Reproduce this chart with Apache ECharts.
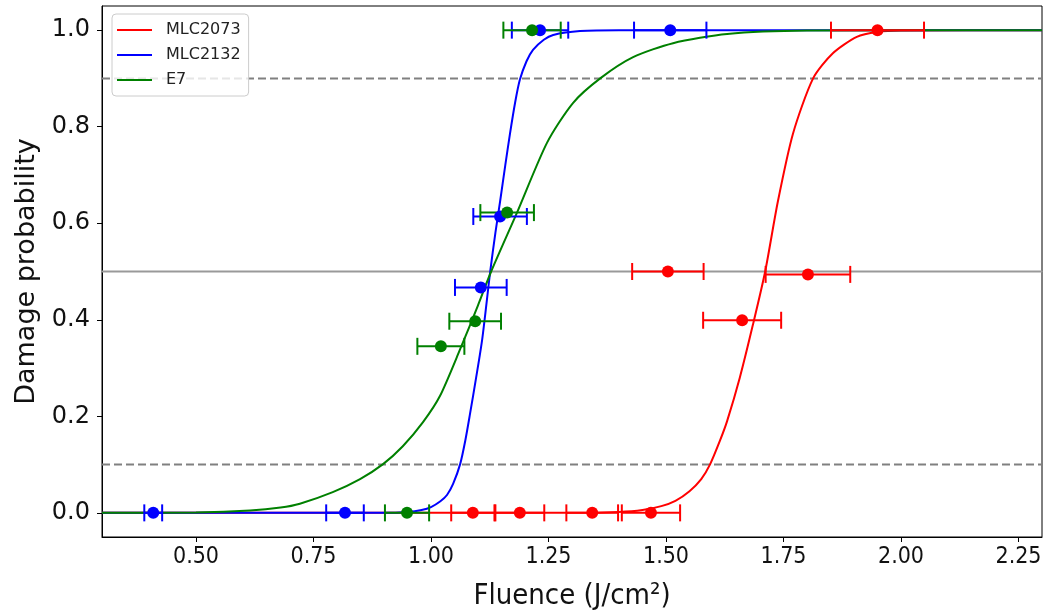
<!DOCTYPE html>
<html>
<head>
<meta charset="utf-8">
<script src="https://cdn.jsdelivr.net/npm/echarts@6/dist/echarts.min.js"></script>
<style>
html,body{margin:0;padding:0;background:#fff;}
#chart{width:1050px;height:616px;}
</style>
</head>
<body>
<div id="chart"></div>
<script>
// ---- data ----
const seriesNames = ['MLC2073', 'MLC2132', 'E7'];
const seriesColors = ['#ff0000', '#0000ff', '#008000'];

// measured points (fluence, probability, fluence error)
const mlc2073X = [1.089, 1.189, 1.343, 1.468, 1.504, 1.662, 1.802, 1.950];
const mlc2073Y = [0.0, 0.0, 0.0, 0.0, 0.5, 0.399, 0.494, 1.0];
const mlc2073Err = [0.046, 0.052, 0.055, 0.062, 0.076, 0.083, 0.090, 0.099];

const mlc2132X = [0.409, 0.817, 1.106, 1.147, 1.232, 1.509];
const mlc2132Y = [0.0, 0.0, 0.467, 0.614, 1.0, 1.0];
const mlc2132Err = [0.019, 0.040, 0.055, 0.057, 0.060, 0.077];

const e7X = [0.949, 1.021, 1.094, 1.162, 1.215];
const e7Y = [0.0, 0.345, 0.397, 0.622, 1.0];
const e7Err = [0.047, 0.050, 0.055, 0.057, 0.061];

// fitted curves
const mlc2073CurveX = [0.30, 1.30, 1.40, 1.45, 1.49, 1.52, 1.55, 1.575, 1.594, 1.615, 1.63, 1.657, 1.685, 1.711, 1.738, 1.77, 1.813, 1.855, 1.906, 1.95, 2.00, 2.30];
const mlc2073CurveY = [0.0, 0.0, 0.002, 0.006, 0.014, 0.025, 0.045, 0.07, 0.101, 0.15, 0.19, 0.28, 0.39, 0.50, 0.645, 0.785, 0.90, 0.952, 0.986, 0.996, 0.999, 1.0];

const mlc2132CurveX = [0.30, 0.90, 0.95, 0.98, 1.00, 1.02, 1.034, 1.047, 1.062, 1.073, 1.083, 1.096, 1.109, 1.126, 1.137, 1.147, 1.158, 1.168, 1.179, 1.189, 1.203, 1.217, 1.24, 1.26, 1.317, 1.40, 2.30];
const mlc2132CurveY = [0.0, 0.0, 0.002, 0.006, 0.012, 0.024, 0.037, 0.06, 0.101, 0.15, 0.205, 0.28, 0.36, 0.50, 0.58, 0.645, 0.72, 0.785, 0.85, 0.897, 0.935, 0.959, 0.98, 0.99, 0.998, 1.0, 1.0];

const e7CurveX = [0.30, 0.50, 0.615, 0.68, 0.721, 0.791, 0.849, 0.898, 0.94, 0.983, 1.019, 1.062, 1.10, 1.128, 1.183, 1.247, 1.302, 1.36, 1.43, 1.515, 1.63, 1.80, 2.30];
const e7CurveY = [0.0, 0.001, 0.005, 0.011, 0.019, 0.043, 0.07, 0.101, 0.138, 0.188, 0.242, 0.339, 0.43, 0.50, 0.622, 0.767, 0.849, 0.90, 0.944, 0.973, 0.992, 0.999, 1.0];

const refLinesDashed = [0.1, 0.9];
const refLineSolid = [0.5];

const xRange = [0.3, 2.3];
const yRange = [-0.05, 1.05];
const xTicks = [0.50, 0.75, 1.00, 1.25, 1.50, 1.75, 2.00, 2.25];
const yTicks = [0.0, 0.2, 0.4, 0.6, 0.8, 1.0];

// ---- build ----
const zip = (a, b) => a.map((v, i) => [v, b[i]]);
const zip3 = (a, b, c) => a.map((v, i) => [v, b[i], c[i]]);

const curves = [zip(mlc2073CurveX, mlc2073CurveY), zip(mlc2132CurveX, mlc2132CurveY), zip(e7CurveX, e7CurveY)];
const points = [zip3(mlc2073X, mlc2073Y, mlc2073Err), zip3(mlc2132X, mlc2132Y, mlc2132Err), zip3(e7X, e7Y, e7Err)];

const series = [];
// reference lines
refLinesDashed.forEach(v => series.push({
  type: 'line', data: [[xRange[0], v], [xRange[1], v]], showSymbol: false, silent: true, z: 1,
  lineStyle: {type: [8, 4], color: '#808080', width: 2}
}));
refLineSolid.forEach(v => series.push({
  type: 'line', data: [[xRange[0], v], [xRange[1], v]], showSymbol: false, silent: true, z: 1,
  lineStyle: {type: 'solid', color: '#999999', width: 2}
}));
seriesNames.forEach((name, i) => {
  series.push({
    name: name, type: 'line', data: curves[i], smooth: 0.25, showSymbol: false,
    lineStyle: {color: seriesColors[i], width: 2}, itemStyle: {color: seriesColors[i]}, z: 3
  });
});
seriesNames.forEach((name, i) => {
  series.push({
    type: 'custom', data: points[i], z: 4,
    renderItem: function (params, api) {
      const x = api.value(0), y = api.value(1), e = api.value(2);
      const p1 = api.coord([x - e, y]);
      const p2 = api.coord([x + e, y]);
      const h = 8.5;
      const st = {stroke: seriesColors[i], lineWidth: 2};
      return {
        type: 'group',
        children: [
          {type: 'line', shape: {x1: p1[0], y1: p1[1], x2: p2[0], y2: p2[1]}, style: st},
          {type: 'line', shape: {x1: p1[0], y1: p1[1] - h, x2: p1[0], y2: p1[1] + h}, style: st},
          {type: 'line', shape: {x1: p2[0], y1: p2[1] - h, x2: p2[0], y2: p2[1] + h}, style: st}
        ]
      };
    }
  });
  series.push({
    type: 'scatter', data: points[i].map(p => [p[0], p[1]]), symbolSize: 12, z: 5,
    itemStyle: {color: seriesColors[i], opacity: 1}
  });
});

const chart = echarts.init(document.getElementById('chart'), null, {renderer: 'canvas'});
chart.setOption({
  animation: false,
  backgroundColor: '#ffffff',
  textStyle: {fontFamily: 'DejaVu Sans'},
  grid: {left: 102, right: 8, top: 6, bottom: 78, show: true, borderColor: '#000', borderWidth: 1, backgroundColor: 'transparent'},
  legend: {
    show: true, orient: 'vertical', left: 112, top: 14,
    data: seriesNames, icon: 'rect', itemWidth: 35, itemHeight: 2, itemGap: 9,
    backgroundColor: 'rgba(255,255,255,0.8)', borderColor: '#cccccc', borderWidth: 1, borderRadius: 4,
    padding: [8, 8, 8, 5],
    textStyle: {fontSize: 16, color: '#222', fontFamily: 'DejaVu Sans', padding: [0, 0, 0, 9]}
  },
  xAxis: {
    type: 'value', min: xRange[0], max: xRange[1],
    name: 'Fluence (J/cm²)', nameLocation: 'middle', nameGap: 45,
    nameTextStyle: {fontSize: 29, color: '#111', fontFamily: 'DejaVu Sans Condensed'},
    axisLine: {show: true, onZero: false, lineStyle: {color: '#000', width: 1}},
    axisTick: {show: true, inside: false, length: 5, lineStyle: {color: '#000'}, customValues: xTicks},
    axisLabel: {show: true, fontSize: 23, color: '#111', margin: 9, fontFamily: 'DejaVu Sans Condensed',
      customValues: xTicks, formatter: v => v.toFixed(2)},
    splitLine: {show: false}
  },
  yAxis: {
    type: 'value', min: yRange[0], max: yRange[1],
    name: 'Damage probability', nameLocation: 'middle', nameGap: 58,
    nameTextStyle: {fontSize: 27, color: '#111'},
    axisLine: {show: true, onZero: false, lineStyle: {color: '#000', width: 1}},
    axisTick: {show: true, inside: false, length: 5, lineStyle: {color: '#000'}, customValues: yTicks},
    axisLabel: {show: true, fontSize: 24, color: '#111', margin: 12,
      customValues: yTicks, formatter: v => v.toFixed(1)},
    splitLine: {show: false}
  },
  series: series
});
</script>
</body>
</html>
